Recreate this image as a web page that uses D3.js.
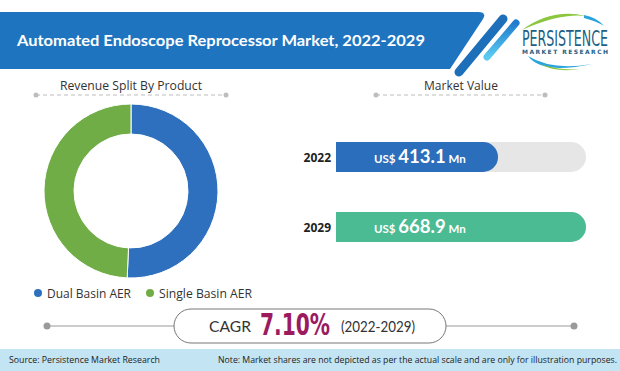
<!DOCTYPE html>
<html>
<head>
<meta charset="utf-8">
<script src="https://cdn.jsdelivr.net/npm/d3@7"></script>
<style>
  body { margin: 0; background: #fff; }
  svg { display: block; font-family: "Open Sans", "Noto Sans", sans-serif; }
</style>
</head>
<body>
<div id="chart"></div>
<script>
// chart values
const title = "Automated Endoscope Reprocessor Market, 2022-2029";
const products = ["Dual Basin AER", "Single Basin AER"];
const shares = [50.7, 49.3];
const productColors = ["#2e70bd", "#70ad47"];
const years = ["2022", "2029"];
const values = [413.1, 668.9];
const barColors = ["#2b6ebb", "#4abb93"];
const cagrValue = "7.10%";
const cagrPeriod = "(2022-2029)";
const sourceText = "Source: Persistence Market Research";
const noteText = "Note: Market shares are not depicted as per the actual scale and are only for illustration purposes.";

const W = 620, H = 371;
const svg = d3.select("#chart").append("svg")
    .attr("width", W)
    .attr("height", H);

// ---- header banner
svg.append("path")
    .attr("d", "M0,12 H478 Q487,12 483,19 L450,69 H0 Z")
    .attr("fill", "#1e74bf");

svg.append("line")
    .attr("x1", 503).attr("y1", 19).attr("x2", 459).attr("y2", 72)
    .attr("stroke", "#1d6fba").attr("stroke-width", 9).attr("stroke-linecap", "round");

const grad = svg.append("defs").append("linearGradient")
    .attr("id", "stripe").attr("x1", 0).attr("y1", 0).attr("x2", 0).attr("y2", 1);
grad.append("stop").attr("offset", "0%").attr("stop-color", "#1f7ccc");
grad.append("stop").attr("offset", "100%").attr("stop-color", "#5ccbf2");

svg.append("line")
    .attr("x1", 516).attr("y1", 23).attr("x2", 487).attr("y2", 57)
    .attr("stroke", "url(#stripe)").attr("stroke-width", 7).attr("stroke-linecap", "round");

svg.append("text")
    .attr("x", 17).attr("y", 46)
    .attr("fill", "#fff")
    .attr("font-family", "Lato, 'Open Sans', sans-serif")
    .attr("font-weight", "bold")
    .attr("font-size", 15.5)
    .attr("textLength", 408)
    .attr("lengthAdjust", "spacingAndGlyphs")
    .text(title);

// ---- logo
const logo = svg.append("g");
logo.append("path")
    .attr("d", "M522,30 Q552,8 586,16 Q560,13 522,30 Z")
    .attr("fill", "#8cc63f");
logo.append("path")
    .attr("d", "M584,15 Q598,18 604,26 Q596,21 584,18 Z")
    .attr("fill", "#2aa4dc");
logo.append("path")
    .attr("d", "M528,56 Q542,75 592,64 Q552,71 528,56 Z")
    .attr("fill", "#2aa4dc");
logo.append("path")
    .attr("d", "M540,64 Q556,73 580,69 Q560,71 540,64 Z")
    .attr("fill", "#8cc63f");
logo.append("text")
    .attr("x", 522).attr("y", 46)
    .attr("fill", "#1d5f86")
    .attr("font-family", "'DejaVu Sans Condensed', 'Liberation Sans Narrow', sans-serif")
    .attr("font-size", 22)
    .attr("textLength", 86)
    .attr("lengthAdjust", "spacingAndGlyphs")
    .text("PERSISTENCE");
logo.append("text")
    .attr("x", 522).attr("y", 54)
    .attr("fill", "#1d5f86")
    .attr("font-family", "'DejaVu Sans', sans-serif")
    .attr("font-weight", "bold")
    .attr("font-size", 6)
    .attr("textLength", 86)
    .attr("lengthAdjust", "spacing")
    .text("MARKET RESEARCH");

// ---- section headings with dashed rules
function heading(txt, cx, x1, x2, len) {
    svg.append("text")
        .attr("x", cx).attr("y", 90)
        .attr("text-anchor", "middle")
        .attr("fill", "#333")
        .attr("font-size", 12)
        .attr("textLength", len)
        .attr("lengthAdjust", "spacingAndGlyphs")
        .text(txt);
    svg.append("line")
        .attr("x1", x1).attr("x2", x2).attr("y1", 95).attr("y2", 95)
        .attr("stroke", "#bdbdbd").attr("stroke-dasharray", "4,3");
    svg.selectAll(null).data([x1, x2]).enter().append("circle")
        .attr("cx", d => d).attr("cy", 95).attr("r", 2.5)
        .attr("fill", "#bdbdbd");
}
heading("Revenue Split By Product", 131, 36, 226, 142);
heading("Market Value", 461, 376, 545, 74);

// ---- donut
const pie = d3.pie().sort(null)(shares);
const arc = d3.arc().innerRadius(57).outerRadius(87);
svg.append("g")
    .attr("transform", "translate(131,191)")
    .selectAll("path")
    .data(pie)
    .enter().append("path")
    .attr("d", arc)
    .attr("fill", (d, i) => productColors[i])
    .attr("stroke", "#fff")
    .attr("stroke-width", 1);

// legend
const legendX = [38, 150];
const legend = svg.selectAll(".leg").data(products).enter().append("g")
    .attr("transform", (d, i) => `translate(${legendX[i]},293)`);
legend.append("circle").attr("r", 4).attr("fill", (d, i) => productColors[i]);
legend.append("text")
    .attr("x", 9).attr("y", 4.5)
    .attr("fill", "#333")
    .attr("font-size", 13)
    .attr("textLength", (d, i) => [84, 93][i])
    .attr("lengthAdjust", "spacingAndGlyphs")
    .text(d => d);

// ---- market value bars
const x = d3.scaleLinear().domain([0, d3.max(values)]).range([20, 250]);
const y = d3.scalePoint().domain(years).range([157, 227]);
const barX = 336, barH = 30, r = barH / 2;

function barPath(w) {
    return `M0,${-r} H${w - r} A${r},${r} 0 0 1 ${w - r},${r} H0 Z`;
}

const bars = svg.selectAll(".bar").data(years).enter().append("g")
    .attr("transform", d => `translate(${barX},${y(d)})`);

bars.append("path")
    .attr("d", barPath(x(d3.max(values))))
    .attr("fill", "#e6e6e6");
bars.append("path")
    .attr("d", (d, i) => barPath(x(values[i])))
    .attr("fill", (d, i) => barColors[i]);

bars.append("text")
    .attr("x", -5).attr("y", 4.5)
    .attr("text-anchor", "end")
    .attr("fill", "#222")
    .attr("font-weight", "bold")
    .attr("font-size", 12)
    .text(d => d);

const lbl = bars.append("text")
    .attr("x", 38).attr("y", 6)
    .attr("fill", "#fff")
    .attr("font-family", "Lato, 'Open Sans', sans-serif");
lbl.append("tspan").attr("font-size", 11.5).attr("font-weight", "bold").text("US$ ");
lbl.append("tspan").attr("font-size", 18.5).attr("font-weight", "bold")
    .text((d, i) => values[i].toFixed(1));
lbl.append("tspan").attr("font-size", 11.5).attr("font-weight", "bold").text(" Mn");

// ---- CAGR strip
svg.append("line")
    .attr("x1", 47).attr("x2", 574).attr("y1", 326).attr("y2", 326)
    .attr("stroke", "#9a9a9a").attr("stroke-width", 1);
svg.selectAll(null).data([47, 574]).enter().append("circle")
    .attr("cx", d => d).attr("cy", 326).attr("r", 3.5)
    .attr("fill", "#9a9a9a");
svg.append("rect")
    .attr("x", 174).attr("y", 309).attr("width", 272).attr("height", 34)
    .attr("rx", 17)
    .attr("fill", "#fff")
    .attr("stroke", "#777").attr("stroke-width", 1);

svg.append("text")
    .attr("x", 209).attr("y", 332)
    .attr("fill", "#333").attr("font-size", 15)
    .attr("font-family", "Lato, sans-serif")
    .attr("textLength", 42).attr("lengthAdjust", "spacingAndGlyphs")
    .text("CAGR");
svg.append("text")
    .attr("x", 260).attr("y", 335)
    .attr("fill", "#9c1b5f").attr("font-size", 31).attr("font-weight", "bold")
    .attr("font-family", "'Liberation Sans Narrow', 'DejaVu Sans Condensed', sans-serif")
    .attr("textLength", 70).attr("lengthAdjust", "spacingAndGlyphs")
    .text(cagrValue);
svg.append("text")
    .attr("x", 341).attr("y", 332)
    .attr("fill", "#333").attr("font-size", 15)
    .attr("font-family", "Lato, sans-serif")
    .attr("textLength", 74).attr("lengthAdjust", "spacingAndGlyphs")
    .text(cagrPeriod);

// ---- footer
svg.append("rect")
    .attr("x", 0).attr("y", 349).attr("width", W).attr("height", H - 349)
    .attr("fill", "#c2e4f3");
svg.append("text")
    .attr("x", 9).attr("y", 363)
    .attr("fill", "#222").attr("font-size", 9)
    .attr("textLength", 151).attr("lengthAdjust", "spacingAndGlyphs")
    .text(sourceText);
svg.append("text")
    .attr("x", 617).attr("y", 363)
    .attr("text-anchor", "end")
    .attr("fill", "#222").attr("font-size", 9)
    .attr("textLength", 399).attr("lengthAdjust", "spacingAndGlyphs")
    .text(noteText);
</script>
</body>
</html>
